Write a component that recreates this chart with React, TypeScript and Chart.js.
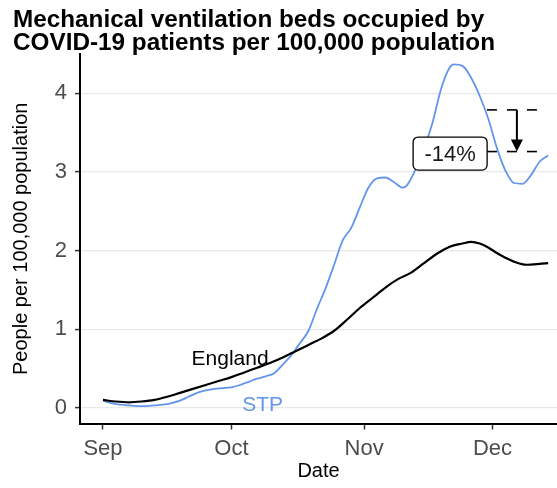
import { useEffect, useRef } from 'react';
import { Chart, registerables } from 'chart.js';

Chart.register(...registerables);

const FONT = "'Liberation Sans', Arial, Helvetica, sans-serif";

// Days since 1 September
const englandDays = [0, 3, 6, 9, 12, 15, 18, 21, 24, 27, 30, 33, 36, 39, 42, 45, 48, 51, 54, 57, 60, 63, 66, 69, 72, 75, 78, 81, 84, 86, 88, 90, 92, 94, 96, 99, 102, 104];
const englandValues = [0.10, 0.08, 0.07, 0.08, 0.10, 0.14, 0.19, 0.24, 0.29, 0.34, 0.39, 0.45, 0.51, 0.57, 0.64, 0.72, 0.80, 0.88, 0.98, 1.12, 1.27, 1.40, 1.53, 1.64, 1.72, 1.84, 1.96, 2.05, 2.09, 2.11, 2.09, 2.04, 1.97, 1.91, 1.86, 1.82, 1.83, 1.84];

const stpDays = [0, 2, 4, 6, 9, 12, 14, 16, 18, 20, 22, 24, 26, 28, 30, 32, 34, 36, 38, 40, 42, 44, 46, 48, 50, 52, 54, 56, 58, 60, 62, 64, 66, 68, 70, 71, 73, 75, 77, 79, 81, 82, 84, 86, 88, 90, 92, 94, 96, 98, 100, 102, 104];
const stpValues = [0.09, 0.06, 0.04, 0.03, 0.02, 0.03, 0.04, 0.06, 0.09, 0.14, 0.19, 0.22, 0.24, 0.25, 0.26, 0.29, 0.33, 0.37, 0.40, 0.44, 0.55, 0.67, 0.82, 0.98, 1.26, 1.52, 1.82, 2.13, 2.29, 2.55, 2.80, 2.92, 2.93, 2.87, 2.80, 2.83, 3.03, 3.30, 3.63, 4.06, 4.33, 4.37, 4.35, 4.20, 3.97, 3.68, 3.31, 3.02, 2.86, 2.85, 2.96, 3.13, 3.21];

const monthTickDays = [0, 30, 61, 91];
const monthTickLabels = ['Sep', 'Oct', 'Nov', 'Dec'];
const yTickValues = [0, 1, 2, 3, 4];

const seriesNames = ['England', 'STP'];
const seriesColors = ['#000000', '#6495ED'];
const seriesLabelDays = [29.7, 37.3];
const seriesLabelValues = [0.62, 0.03];

const changeFromValue = 3.79;
const changeToValue = 3.26;
const changeText = '-14%';
const changeStartDay = 89.7;
const changeEndDay = 101.6;
const changeArrowDay = 96.7;
const changeLabelDay = 81.1;
const changeLabelValue = 3.234;

const titleLines = ['Mechanical ventilation beds occupied by', 'COVID-19 patients per 100,000 population'];

const annotationPlugin = {
  id: 'seriesAnnotations',
  afterDatasetsDraw(chart: any) {
    const { ctx, scales } = chart;
    const x = scales.x;
    const y = scales.y;
    ctx.save();
    // series labels
    ctx.font = `21px ${FONT}`;
    ctx.textAlign = 'center';
    ctx.textBaseline = 'middle';
    seriesNames.forEach((name, i) => {
      ctx.fillStyle = seriesColors[i];
      ctx.fillText(name, x.getPixelForValue(seriesLabelDays[i]), y.getPixelForValue(seriesLabelValues[i]));
    });

    // dashed reference lines
    const x0 = x.getPixelForValue(changeStartDay);
    const x1 = x.getPixelForValue(changeEndDay);
    const yTop = y.getPixelForValue(changeFromValue);
    const yBot = y.getPixelForValue(changeToValue);
    ctx.strokeStyle = '#000';
    ctx.fillStyle = '#000';
    ctx.lineWidth = 1.6;
    ctx.setLineDash([10, 10]);
    [yTop, yBot].forEach((yy) => {
      ctx.beginPath();
      ctx.moveTo(x0, yy);
      ctx.lineTo(x1, yy);
      ctx.stroke();
    });
    ctx.setLineDash([]);

    // arrow
    const xa = x.getPixelForValue(changeArrowDay);
    ctx.lineWidth = 2;
    ctx.beginPath();
    ctx.moveTo(xa, yTop);
    ctx.lineTo(xa, yBot - 10);
    ctx.stroke();
    ctx.beginPath();
    ctx.moveTo(xa - 6, yBot - 12);
    ctx.lineTo(xa + 6, yBot - 12);
    ctx.lineTo(xa, yBot);
    ctx.closePath();
    ctx.fill();

    // label box
    const cx = x.getPixelForValue(changeLabelDay);
    const cy = y.getPixelForValue(changeLabelValue);
    const w = 74;
    const h = 33;
    ctx.beginPath();
    ctx.roundRect(cx - w / 2, cy - h / 2, w, h, 5);
    ctx.fillStyle = '#ffffff';
    ctx.fill();
    ctx.lineWidth = 1.3;
    ctx.strokeStyle = '#000';
    ctx.stroke();
    ctx.fillStyle = '#1a1a1a';
    ctx.font = `22px ${FONT}`;
    ctx.textAlign = 'center';
    ctx.textBaseline = 'middle';
    ctx.fillText(changeText, cx, cy + 1);
    ctx.restore();
  },
};

export default function App() {
  const canvasRef = useRef<HTMLCanvasElement | null>(null);

  useEffect(() => {
    if (!canvasRef.current) return;
    const chart = new Chart(canvasRef.current, {
      type: 'line',
      data: {
        datasets: [
          {
            label: seriesNames[0],
            data: englandDays.map((d, i) => ({ x: d, y: englandValues[i] })),
            borderColor: seriesColors[0],
            borderWidth: 2.2,
            pointRadius: 0,
            tension: 0.4,
            cubicInterpolationMode: 'monotone',
            fill: false,
          },
          {
            label: seriesNames[1],
            data: stpDays.map((d, i) => ({ x: d, y: stpValues[i] })),
            borderColor: seriesColors[1],
            borderWidth: 1.8,
            pointRadius: 0,
            tension: 0.4,
            cubicInterpolationMode: 'monotone',
            fill: false,
          },
        ],
      },
      options: {
        responsive: false,
        animation: false,
        devicePixelRatio: 1,
        layout: { padding: { left: 13, right: 0, top: 0, bottom: 0 } },
        plugins: {
          legend: { display: false },
          tooltip: { enabled: false },
          title: {
            display: true,
            text: titleLines,
            align: 'start',
            color: '#000',
            font: { family: FONT, size: 24.3, weight: 'bold', lineHeight: 0.928 },
            padding: { top: 9, bottom: 0 },
          },
        },
        scales: {
          x: {
            type: 'linear',
            min: -5.37,
            max: 106.07,
            afterBuildTicks: (s: any) => {
              s.ticks = monthTickDays.map((v) => ({ value: v }));
            },
            afterFit: (s: any) => {
              s.height = 64.5;
            },
            ticks: {
              callback: (v: any) => {
                const i = monthTickDays.indexOf(Number(v));
                return i >= 0 ? monthTickLabels[i] : '';
              },
              color: '#4d4d4d',
              font: { family: FONT, size: 22 },
              padding: 6,
              maxRotation: 0,
              autoSkip: false,
            },
            grid: {
              display: true,
              drawOnChartArea: false,
              drawTicks: true,
              tickLength: 6,
              tickColor: '#333',
              tickWidth: 1.5,
            },
            border: { display: true, color: '#000', width: 2 },
            title: {
              display: true,
              text: 'Date',
              color: '#000',
              font: { family: FONT, size: 20, lineHeight: 1.2 },
              padding: { top: 0, bottom: 5 },
            },
          },
          y: {
            type: 'linear',
            min: -0.2,
            max: 4.5,
            afterBuildTicks: (s: any) => {
              s.ticks = yTickValues.map((v) => ({ value: v }));
            },
            afterFit: (s: any) => {
              s.width = 67;
            },
            ticks: {
              color: '#4d4d4d',
              font: { family: FONT, size: 22 },
              padding: 8,
            },
            grid: {
              color: '#e8e8e8',
              lineWidth: 1.2,
              tickLength: 5,
              tickColor: '#333',
              tickWidth: 1.5,
            },
            border: { display: true, color: '#000', width: 2 },
            title: {
              display: true,
              text: 'People per 100,000 population',
              color: '#000',
              font: { family: FONT, size: 20, lineHeight: 0.85 },
              padding: { top: 0, bottom: 0 },
            },
          },
        },
      },
      plugins: [annotationPlugin],
    } as any);
    return () => chart.destroy();
  }, []);

  return (
    <div style={{ position: 'fixed', left: 0, top: 0, width: 557, height: 488, background: '#fff' }}>
      <canvas ref={canvasRef} width={557} height={488} style={{ display: 'block' }} />
    </div>
  );
}
